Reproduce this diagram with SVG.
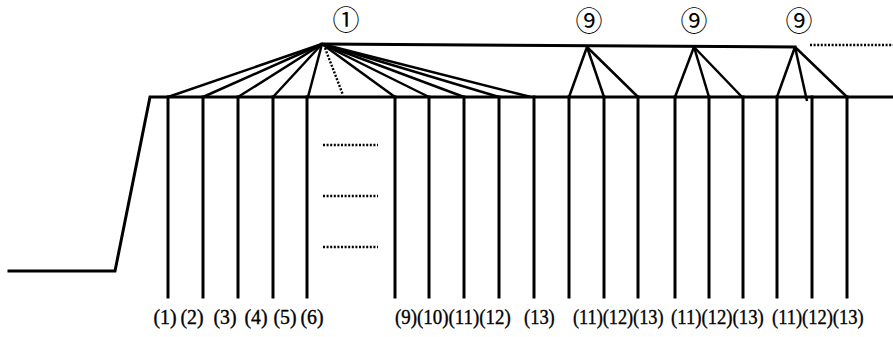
<svg xmlns="http://www.w3.org/2000/svg" width="893" height="337" viewBox="0 0 893 337">
<style>
.ln{stroke:#000;stroke-width:3;fill:none;stroke-linecap:square}
.fan{stroke:#000;stroke-width:2.5;fill:none}
.dot{stroke:#000;stroke-width:2.4;fill:none;stroke-dasharray:2 1.6}
.lbl{font-family:"Liberation Serif","Times New Roman",serif;font-size:22px;fill:#000;text-anchor:middle;stroke:#000;stroke-width:0.4}
.grp{font-family:"Liberation Serif","Times New Roman",serif;font-size:22px;fill:#000;text-anchor:start;stroke:#000;stroke-width:0.4}
.circ{font-family:"Noto Sans CJK JP","Noto Sans CJK SC",sans-serif;font-size:27px;fill:#000;text-anchor:middle}
</style>
<rect width="893" height="337" fill="#fff"/>
<g id="connectors">
  <polyline class="ln" points="9,271 115,271 150,97 893,97"/>
  <line class="ln" x1="322" y1="44" x2="795" y2="47"/>
  <line class="dot" x1="810" y1="45" x2="893" y2="45"/>
  <g id="fan1">
    <line class="fan" x1="322" y1="44" x2="168" y2="97"/>
    <line class="fan" x1="322" y1="44" x2="203" y2="97"/>
    <line class="fan" x1="322" y1="44" x2="238" y2="97"/>
    <line class="fan" x1="322" y1="44" x2="273" y2="97"/>
    <line class="fan" x1="322" y1="44" x2="308" y2="97"/>
    <line class="dot" x1="325" y1="48" x2="343" y2="95"/>
    <line class="fan" x1="322" y1="44" x2="395" y2="97"/>
    <line class="fan" x1="322" y1="44" x2="429" y2="97"/>
    <line class="fan" x1="322" y1="44" x2="464" y2="97"/>
    <line class="fan" x1="322" y1="44" x2="499" y2="97"/>
    <line class="fan" x1="322" y1="44" x2="531" y2="97"/>
  </g>
  <g id="fan9a">
    <line class="fan" x1="587" y1="47" x2="569" y2="97"/>
    <line class="fan" x1="587" y1="47" x2="604" y2="97"/>
    <line class="fan" x1="587" y1="47" x2="638" y2="97"/>
  </g>
  <g id="fan9b">
    <line class="fan" x1="694" y1="47" x2="675" y2="97"/>
    <line class="fan" x1="694" y1="47" x2="709" y2="97"/>
    <line class="fan" x1="694" y1="47" x2="742" y2="97"/>
  </g>
  <g id="fan9c">
    <line class="fan" x1="795" y1="47" x2="777" y2="97"/>
    <line class="fan" x1="795" y1="47" x2="807" y2="101"/>
    <line class="fan" x1="795" y1="47" x2="847" y2="97"/>
  </g>
  <g id="gap-dots">
    <line class="dot" x1="323" y1="145" x2="378" y2="145"/>
    <line class="dot" x1="323" y1="196" x2="378" y2="196"/>
    <line class="dot" x1="323" y1="247" x2="378" y2="247"/>
  </g>
</g>
<g id="piles">
  <g class="ln">
    <line x1="168" y1="97" x2="168" y2="297"/>
    <line x1="203" y1="97" x2="203" y2="297"/>
    <line x1="238" y1="97" x2="238" y2="297"/>
    <line x1="273" y1="97" x2="273" y2="297"/>
    <line x1="307" y1="97" x2="307" y2="297"/>
    <line x1="395" y1="97" x2="395" y2="297"/>
    <line x1="429" y1="97" x2="429" y2="297"/>
    <line x1="464" y1="97" x2="464" y2="297"/>
    <line x1="499" y1="97" x2="499" y2="297"/>
    <line x1="534" y1="97" x2="534" y2="297"/>
    <line x1="569" y1="97" x2="569" y2="297"/>
    <line x1="604" y1="97" x2="604" y2="297"/>
    <line x1="638" y1="97" x2="638" y2="297"/>
    <line x1="675" y1="97" x2="675" y2="297"/>
    <line x1="709" y1="97" x2="709" y2="297"/>
    <line x1="743" y1="97" x2="743" y2="297"/>
    <line x1="777" y1="97" x2="777" y2="297"/>
    <line x1="812" y1="97" x2="812" y2="297"/>
    <line x1="847" y1="97" x2="847" y2="297"/>
  </g>
</g>
<g id="node-1"><text class="circ" x="346" y="30">①</text></g>
<g id="node-9a"><text class="circ" x="589" y="31">⑨</text></g>
<g id="node-9b"><text class="circ" x="694" y="31">⑨</text></g>
<g id="node-9c"><text class="circ" x="799" y="31">⑨</text></g>
<g id="labels">
  <text class="lbl" transform="translate(165,324) scale(0.9,1)">(1)</text>
  <text class="lbl" transform="translate(192,324) scale(0.9,1)">(2)</text>
  <text class="lbl" transform="translate(225,324) scale(0.9,1)">(3)</text>
  <text class="lbl" transform="translate(256,324) scale(0.9,1)">(4)</text>
  <text class="lbl" transform="translate(285,324) scale(0.9,1)">(5)</text>
  <text class="lbl" transform="translate(312,324) scale(0.9,1)">(6)</text>
  <text class="grp" transform="translate(395,324) scale(0.86,1)">(9)(10)(11)(12)</text>
  <text class="grp" transform="translate(524,324) scale(0.84,1)">(13)</text>
  <text class="grp" transform="translate(573,324) scale(0.83,1)">(11)(12)(13)</text>
  <text class="grp" transform="translate(671,324) scale(0.85,1)">(11)(12)(13)</text>
  <text class="grp" transform="translate(772,324) scale(0.84,1)">(11)(12)(13)</text>
</g>
</svg>
